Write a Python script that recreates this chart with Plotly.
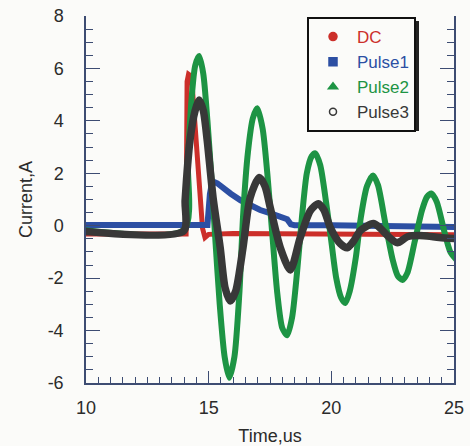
import plotly.graph_objects as go

# ---- data ----
dc_t = [9.8, 14.08, 14.12, 14.18, 14.3, 14.4, 14.55, 14.75, 14.85, 15.0, 16.0, 18.0, 20.0, 22.0, 25.2]
dc_i = [-0.32, -0.32, 5.5, 5.78, 5.7, 4.3, 2.2, -0.1, -0.45, -0.33, -0.3, -0.32, -0.3, -0.32, -0.35]

p1_t = [9.8, 14.95, 15.05, 15.15, 15.35, 15.6, 15.9, 16.3, 16.7, 17.1, 17.5, 17.9, 18.2, 18.35, 18.5, 20.0, 22.0, 25.2]
p1_i = [0.03, 0.03, 1.2, 1.7, 1.62, 1.42, 1.22, 0.97, 0.77, 0.6, 0.48, 0.33, 0.25, 0.05, 0.02, 0.02, 0.0, -0.05]

p2_t = [9.8, 14.0, 14.15, 14.3, 14.45, 14.61, 14.78, 14.95, 15.1, 15.27, 15.45, 15.65, 15.84,
        16.05, 16.25, 16.41, 16.6, 16.8, 16.98, 17.2, 17.39, 17.6, 17.8, 18.0, 18.2, 18.4, 18.6,
        18.8, 19.0, 19.2, 19.35, 19.55, 19.8, 20.0, 20.2, 20.4, 20.57, 20.75, 21.0, 21.2, 21.45,
        21.7, 21.9, 22.2, 22.5, 22.7, 22.9, 23.1, 23.4, 23.7, 23.9, 24.08, 24.3, 24.6, 24.85, 25.1]
p2_i = [-0.15, -0.15, 2.5, 4.8, 6.1, 6.47, 5.8, 4.0, 2.0, -0.5, -3.0, -5.0, -5.8,
        -5.0, -2.6, 0.5, 2.8, 4.1, 4.48, 3.7, 2.0, -0.4, -2.6, -3.9, -4.18, -3.5, -1.8,
        0.3, 2.0, 2.65, 2.76, 2.3, 0.8, -0.6, -2.0, -2.75, -2.95, -2.5, -1.2, 0.3, 1.5,
        1.92, 1.55, 0.1, -1.3, -1.9, -2.07, -1.8, -0.6, 0.6, 1.1, 1.23, 0.9, -0.2, -1.0, -1.3]

p3_t = [9.8, 13.98, 14.04, 14.24, 14.45, 14.61, 14.78, 14.94, 15.18, 15.47, 15.67, 15.88, 16.1,
        16.4, 16.69, 17.06, 17.3, 17.51, 17.92, 18.33, 18.73, 19.14, 19.47, 19.7, 19.96, 20.37,
        20.65, 20.9, 21.18, 21.71, 22.0, 22.29, 22.69, 23.1, 23.76, 24.4, 25.2]
p3_i = [-0.2, -0.2, 0.96, 3.26, 4.4, 4.8, 4.4, 3.26, 1.07, -0.84, -2.37, -2.87, -2.5,
        -0.84, 1.07, 1.84, 1.5, 0.69, -0.84, -1.69, -0.46, 0.57, 0.84, 0.6, -0.07, -0.69,
        -0.84, -0.6, -0.19, 0.08, -0.1, -0.38, -0.65, -0.42, -0.38, -0.45, -0.5]

names = ["DC", "Pulse1", "Pulse2", "Pulse3"]
colors = ["#cc2f2a", "#2c4fa3", "#1d9444", "#383838"]
symbols = ["circle", "square", "triangle-up", "circle-open"]

x_ticks = [10, 15, 20, 25]
x_labels = ["10", "15", "20", "25"]
y_ticks = [-6, -4, -2, 0, 2, 4, 6, 8]
y_labels = ["-6", "-4", "-2", "0", "2", "4", "6", "8"]

fig = go.Figure()

# data lines (drawing order: red, blue, green, black)
fig.add_trace(go.Scatter(x=dc_t, y=dc_i, mode="lines", showlegend=False,
                         line=dict(color=colors[0], width=5)))
fig.add_trace(go.Scatter(x=p1_t, y=p1_i, mode="lines", showlegend=False,
                         line=dict(color=colors[1], width=6)))
fig.add_trace(go.Scatter(x=p2_t, y=p2_i, mode="lines", showlegend=False,
                         line=dict(color=colors[2], width=6, shape="spline", smoothing=0.7)))
fig.add_trace(go.Scatter(x=p3_t, y=p3_i, mode="lines", showlegend=False,
                         line=dict(color=colors[3], width=7.5, shape="spline", smoothing=0.7)))

# legend entries
for n, c, s in zip(names, colors, symbols):
    fig.add_trace(go.Scatter(x=[None], y=[None], mode="markers",
                             name='<span style="color:%s">%s</span>' % (c, n),
                             marker=dict(color=c, symbol=s, size=8 if s != "circle-open" else 7,
                                         line=dict(color=c, width=1.5))))

axis_col = "#3d4c72"
bg = "#fbfbf9"
W, H = 470, 446
L, T, PW, PH = 86, 16, 368, 367


def px(xf):
    return (xf - L) / PW


def py(yf):
    return (T + PH - yf) / PH


fig.update_layout(
    width=W, height=H,
    margin=dict(l=L, r=W - L - PW, t=T, b=H - T - PH),
    paper_bgcolor=bg, plot_bgcolor=bg,
    font=dict(family="Liberation Sans, Arial", size=18, color="#2b2b2b"),
    showlegend=True,
    legend=dict(x=px(307), y=py(17), xanchor="left", yanchor="top",
                bgcolor=bg, bordercolor="#111111", borderwidth=2,
                font=dict(size=17), tracegroupgap=0, itemwidth=38),
    shapes=[dict(type="rect", xref="paper", yref="paper", layer="above",
                 x0=px(311), x1=px(419), y0=py(131), y1=py(21),
                 fillcolor="#222222", line=dict(width=0))],
    xaxis=dict(range=[10, 25], tickvals=x_ticks, ticktext=x_labels, ticks="inside",
               ticklen=12, tickwidth=1.3, automargin=False, ticklabeloverflow="allow",
               tickcolor=axis_col, showline=True, linecolor=axis_col, linewidth=1.5,
               showgrid=False, zeroline=False, mirror=False,
               minor=dict(dtick=0.5, ticks="inside", ticklen=6, tickcolor=axis_col, tickwidth=1.1),
               ticklabelstandoff=8,
               title=dict(text="Time,us", font=dict(size=18), standoff=12)),
    yaxis=dict(range=[-6, 8], tickvals=y_ticks, ticktext=y_labels, ticks="inside",
               ticklen=14, tickwidth=1.3, automargin=False, ticklabeloverflow="allow",
               tickcolor=axis_col, showline=True, linecolor=axis_col, linewidth=1.5,
               showgrid=False, zeroline=False, mirror="ticks",
               minor=dict(dtick=0.5, ticks="inside", ticklen=7, tickcolor=axis_col, tickwidth=1.1),
               ticklabelstandoff=17,
               title=dict(text="Current,A", font=dict(size=18), standoff=10)),
)

fig.write_html("out.html", config={"displayModeBar": False},
               post_script="document.body.style.margin='0px';")
